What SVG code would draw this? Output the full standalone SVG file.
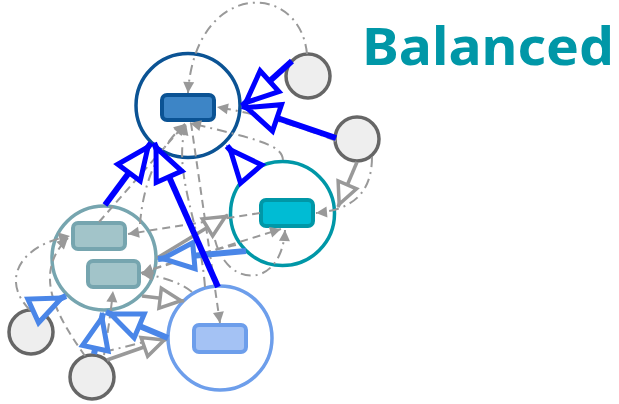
<svg xmlns="http://www.w3.org/2000/svg" width="619" height="404" viewBox="0 0 619 404">
<style>
.ring{fill:#fff;stroke-width:3.5}
.box{stroke-width:4}
.g{fill:#eeeeee;stroke:#666;stroke-width:3.5}
.thick{fill:none;stroke:#0000ff;stroke-width:6}
.mid{fill:none;stroke:#4a86e8;stroke-width:6}
.gm{fill:none;stroke:#999;stroke-width:3.5}
.t{fill:none;stroke:#999;stroke-width:2}
.dash{stroke-dasharray:8 5}
.dd{stroke-dasharray:10 5 2 5}
.title{font-family:"Noto Sans","Open Sans",sans-serif;font-weight:bold;font-size:52px;fill:#0097a7}
</style>
<defs>
<marker id="mb" viewBox="-42 -20 46 40" markerWidth="46" markerHeight="40" refX="0" refY="0" orient="auto" markerUnits="userSpaceOnUse"><path d="M-5,0 L-37,-14 L-37,14 Z" fill="#fff" stroke="#0000ff" stroke-width="5"/></marker>
<marker id="ml" viewBox="-42 -20 46 40" markerWidth="46" markerHeight="40" refX="0" refY="0" orient="auto" markerUnits="userSpaceOnUse"><path d="M-5,0 L-36,-13 L-36,13 Z" fill="#fff" stroke="#4a86e8" stroke-width="5"/></marker>
<marker id="mg" viewBox="-30 -14 34 28" markerWidth="34" markerHeight="28" refX="0" refY="0" orient="auto" markerUnits="userSpaceOnUse"><path d="M-3,0 L-24,-10 L-24,10 Z" fill="#fff" stroke="#999" stroke-width="3.5"/></marker>
<marker id="mt" viewBox="-14 -8 16 16" markerWidth="16" markerHeight="16" refX="0" refY="0" orient="auto" markerUnits="userSpaceOnUse"><path d="M0,0 L-11,-5.5 L-11,5.5 Z" fill="#999"/></marker>
</defs>
<rect width="619" height="404" fill="#fff"/>
<text class="title" x="362" y="65" textLength="252" lengthAdjust="spacingAndGlyphs">Balanced</text>
<g id="nodeA"><circle class="ring" cx="188" cy="105.5" r="52" stroke="#0b5394"/><rect class="box" x="162" y="95" width="52" height="25" rx="5" fill="#3d85c6" stroke="#0b5394"/></g>
<g id="nodeB"><circle class="ring" cx="282.5" cy="213.5" r="52" stroke="#0097a7"/><rect class="box" x="261" y="200" width="52" height="26" rx="5" fill="#00bcd4" stroke="#0097a7"/></g>
<g id="nodeC"><circle class="ring" cx="104" cy="258" r="52" stroke="#76a5af"/><rect class="box" x="73" y="223" width="52" height="26" rx="5" fill="#a2c4c9" stroke="#76a5af"/><rect class="box" x="88" y="261" width="51" height="26" rx="5" fill="#a2c4c9" stroke="#76a5af"/></g>
<g id="nodeD"><circle class="ring" cx="220" cy="338" r="52" stroke="#6d9eeb"/><rect class="box" x="194" y="325" width="52" height="27" rx="5" fill="#a4c2f4" stroke="#6d9eeb"/></g>
<g id="g1"><circle class="g" cx="308" cy="76" r="22"/></g>
<g id="g2"><circle class="g" cx="357" cy="139" r="22"/></g>
<g id="g3"><circle class="g" cx="31" cy="332" r="22"/></g>
<g id="g4"><circle class="g" cx="92" cy="377" r="22"/></g>
<g id="connectors">
<path class="t dd" d="M307,54 C300,-20 195,-20 188,93" marker-end="url(#mt)"/>
<path class="t dd" d="M336,141 Q280,118 217,107" marker-end="url(#mt)"/>
<path class="t dd" d="M283,160 C282,145 260,140 190,123" marker-end="url(#mt)"/>
<path class="t dash" d="M99,222 L185,124" marker-end="url(#mt)"/>
<path class="t dash" d="M191,123 Q205,220 220,323" marker-end="url(#mt)"/>
<path class="t dd" d="M140,224 Q145,160 185,124" marker-end="url(#mt)"/>
<path class="t dd" d="M205,287 C200,220 172,175 186,124" marker-end="url(#mt)"/>
<path class="t dd" d="M372,157 C372,195 350,210 316,213" marker-end="url(#mt)"/>
<path class="t dash" d="M260,213 L128,234" marker-end="url(#mt)"/>
<path class="t dash" d="M141,273 L281,229" marker-end="url(#mt)"/>
<path class="t dash" d="M236,245 Q190,255 142,273" marker-end="url(#mt)"/>
<path class="t dd" d="M215,240 C228,290 282,288 285,230" marker-end="url(#mt)"/>
<path class="t dd" d="M30,310 C0,280 20,245 70,236" marker-end="url(#mt)"/>
<path class="t dash" d="M85,356 C60,320 30,275 68,238" marker-end="url(#mt)"/>
<path class="t dd" d="M104,355 Q110,320 113,291" marker-end="url(#mt)"/>
<path class="t dd" d="M104,352 L168,336"/>
<path class="t dd" d="M192,292 C180,282 160,276 142,274" marker-end="url(#mt)"/>
<path class="gm" d="M157,258 L228,215" marker-end="url(#mg)"/>
<path class="gm" d="M142,296 L184,301" marker-end="url(#mg)"/>
<path class="gm" d="M107,360 L167,339" marker-end="url(#mg)"/>
<path class="gm" d="M357,162 L338,207" marker-end="url(#mg)"/>
<path class="mid" d="M246,251 L158,259" marker-end="url(#ml)"/>
<path class="mid" d="M168,338 L106,312" marker-end="url(#ml)"/>
<path class="mid" d="M94,354 L103,313" marker-end="url(#ml)"/>
<path class="mid" d="M33,311 L66,296" marker-end="url(#ml)"/>
<path class="thick" d="M292,61 L242,106" marker-end="url(#mb)"/>
<path class="thick" d="M336,138 L242,106" marker-end="url(#mb)"/>
<path class="thick" d="M252,175 L227,146" marker-end="url(#mb)"/>
<path class="thick" d="M105,205 L151,143" marker-end="url(#mb)"/>
<path class="thick" d="M218,287 L154,143" marker-end="url(#mb)"/>
</g>
</svg>
